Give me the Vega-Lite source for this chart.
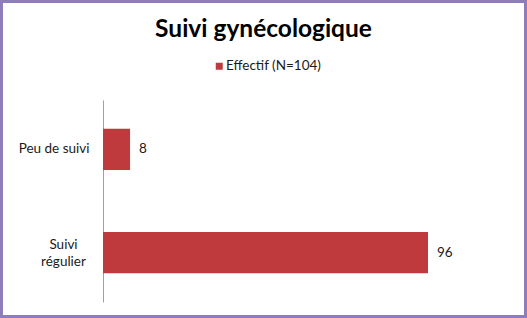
{
  "$schema": "https://vega.github.io/schema/vega-lite/v6.json",
  "width": 524,
  "height": 315,
  "autosize": {"type": "none"},
  "padding": {"left": 1.5, "top": 1.5, "right": 1.5, "bottom": 1.5},
  "background": "white",
  "config": {
    "view": {"stroke": "#8F7DBB", "strokeWidth": 3},
    "font": "Lato"
  },
  "title": {
    "text": "Suivi gynécologique",
    "font": "Lato",
    "fontSize": 24.5,
    "fontWeight": "bold",
    "color": "#000000",
    "anchor": "middle",
    "frame": "group",
    "offset": -41
  },
  "data": {
    "values": [
      {"cat": "Peu de suivi", "n": 8, "serie": "Effectif (N=104)"},
      {"cat": "Suivi régulier", "n": 96, "serie": "Effectif (N=104)"}
    ]
  },
  "encoding": {
    "y": {
      "field": "cat",
      "type": "nominal",
      "sort": ["Peu de suivi", "Suivi régulier"],
      "scale": {"range": [98.5, 300.5], "paddingInner": 0.6, "paddingOuter": 0.28},
      "axis": {
        "title": null,
        "offset": -101.5,
        "ticks": false,
        "domainColor": "#A0A0A0",
        "domainWidth": 1,
        "labelFont": "Lato",
        "labelFontSize": 13.5,
        "labelColor": "#1a1a1a",
        "labelLineHeight": 17,
        "labelExpr": "datum.value == 'Suivi régulier' ? ['Suivi', 'régulier'] : datum.value",
        "labelAlign": {"condition": {"test": "datum.value == 'Suivi régulier'", "value": "center"}, "value": "right"},
        "labelPadding": {"condition": {"test": "datum.value == 'Suivi régulier'", "value": 40}, "value": 14},
        "labelOffset": {"condition": {"test": "datum.value == 'Suivi régulier'", "value": -8}, "value": 0}
      }
    },
    "x": {
      "field": "n",
      "type": "quantitative",
      "scale": {"domain": [0, 96], "range": [101.5, 426.5]},
      "axis": null
    }
  },
  "layer": [
    {
      "mark": {"type": "bar"},
      "encoding": {
        "color": {
          "field": "serie",
          "type": "nominal",
          "scale": {"range": ["#BE3A3D"]},
          "legend": {
            "title": null,
            "orient": "none",
            "legendX": 211,
            "legendY": 58,
            "symbolType": "square",
            "symbolSize": 49,
            "symbolStrokeWidth": 0,
            "labelOffset": 0,
            "labelFont": "Lato",
            "labelFontSize": 13.5,
            "labelColor": "#1a1a1a",
            "padding": 0
          }
        }
      }
    },
    {
      "mark": {"type": "text", "align": "left", "baseline": "middle", "dx": 9, "font": "Lato", "fontSize": 13.5, "color": "#1a1a1a"},
      "encoding": {"text": {"field": "n", "type": "quantitative"}}
    }
  ]
}
